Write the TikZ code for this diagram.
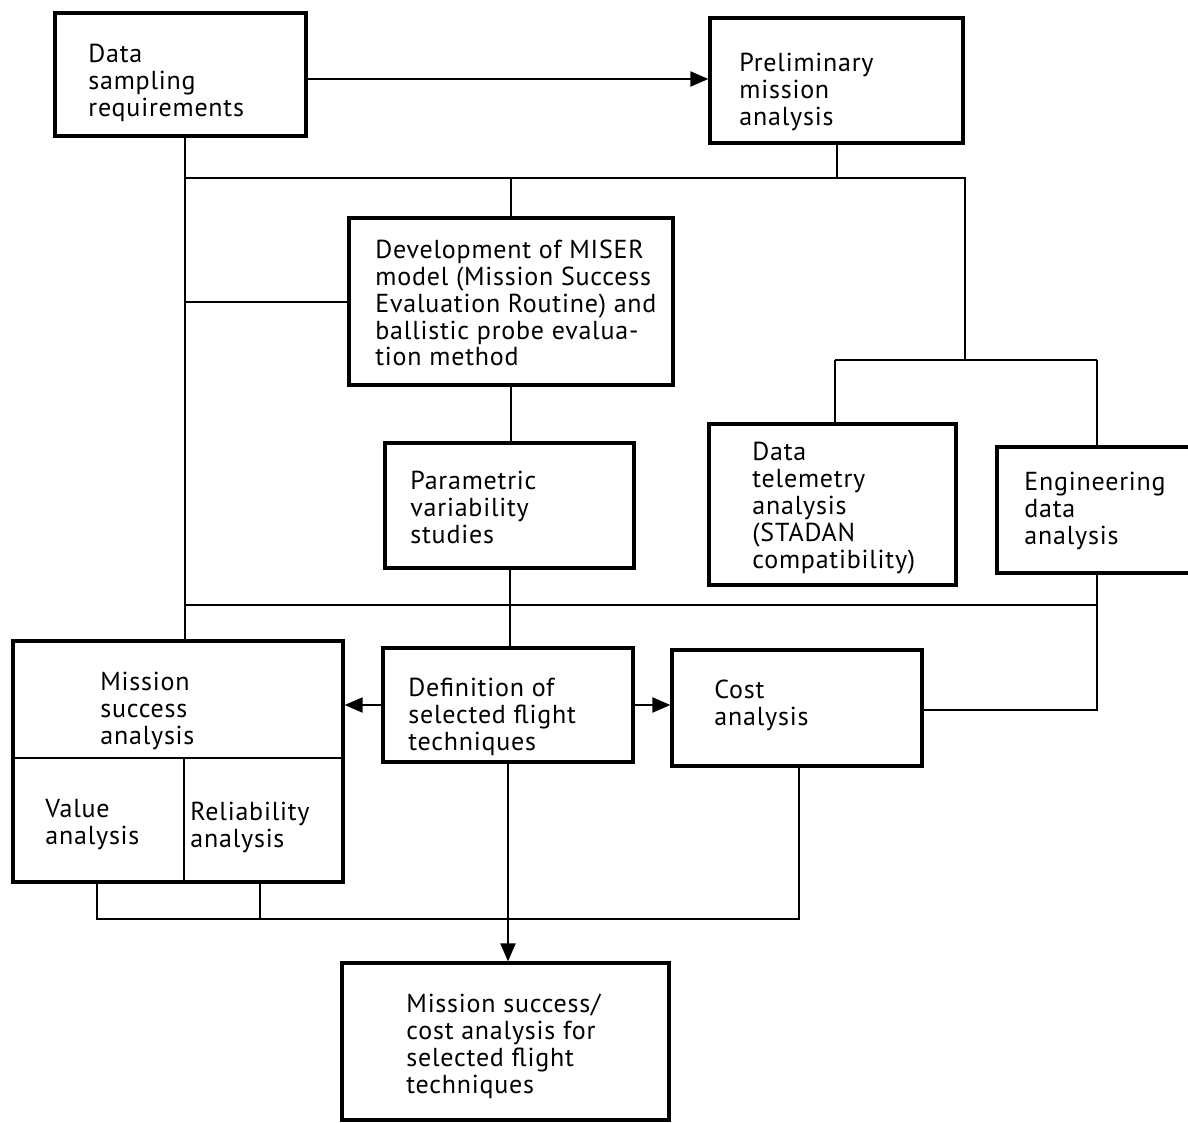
\documentclass[tikz,border=0pt]{standalone}
\usepackage{fontspec}
\setmainfont{PT Sans}[LetterSpace=3]
\usetikzlibrary{arrows.meta}

% left-aligned multi-line label whose baseline is that of its first line
\newcommand{\tlines}[1]{\begin{tabular}[t]{@{}l@{}}#1\end{tabular}}

\begin{document}
\begin{tikzpicture}[
  x=0.5pt, y=-0.5pt,
  box/.style={draw, line width=1.6pt, inner sep=0pt},
  conn/.style={line width=1pt},
  flow/.style={line width=1pt, -{Triangle[length=9pt,width=7.5pt]}},
  txt/.style={anchor=base west, inner sep=0pt,
              font=\fontsize{13}{13.5}\selectfont}
]
\useasboundingbox (0,0) rectangle (1188,1123);
\clip (0,0) rectangle (1188,1123);

% ---- boxes ----
\node[box, minimum width=125.5pt, minimum height=61.5pt] (dsr)   at (180.5,74.5) {};
\node[box, minimum width=126.5pt, minimum height=62.5pt] (pma)   at (836.5,80.5) {};
\node[box, minimum width=162pt,   minimum height=83.5pt] (miser) at (511,301.5) {};
\node[box, minimum width=124.5pt, minimum height=62.5pt] (param) at (509.5,505.5) {};
\node[box, minimum width=123.5pt, minimum height=80.5pt] (dt)    at (832.5,504.5) {};
\node[box, minimum width=101.5pt, minimum height=63pt]   (eng)   at (1098.5,510) {};
\node[box, minimum width=165pt,   minimum height=120.5pt] (ms)   at (178,761.5) {};
\node[box, minimum width=125pt,   minimum height=57pt]   (def)   at (508,705) {};
\node[box, minimum width=125pt,   minimum height=58pt]   (cost)  at (797,708) {};
\node[box, minimum width=163.5pt, minimum height=78.5pt] (fin)   at (505.5,1041.5) {};

% ---- texts ----
\node[txt] (dsr-t)   at (88,63)   {\tlines{Data\\ sampling\\ requirements}};
\node[txt] (pma-t)   at (739,72)  {\tlines{Preliminary\\ mission\\ analysis}};
\node[txt] (miser-t) at (375,258) {\tlines{Development of MISER\\ model (Mission Success\\ Evaluation Routine) and\\ ballistic probe evalua-\\ tion method}};
\node[txt] (param-t) at (410,489) {\tlines{Parametric\\ variability\\ studies}};
\node[txt] (dt-t)    at (752,460) {\tlines{Data\\ telemetry\\ analysis\\ (STADAN\\ compatibility)}};
\node[txt] (eng-t)   at (1024,490) {\tlines{Engineering\\ data\\ analysis}};
\node[txt] (ms-t)    at (100,690) {\tlines{Mission\\ success\\ analysis}};
\node[txt] (val-t)   at (45,817)  {\tlines{Value\\ analysis}};
\node[txt] (rel-t)   at (190,820) {\tlines{Reliability\\ analysis}};
\node[txt] (def-t)   at (408,696) {\tlines{Definition of\\ selected flight\\ techniques}};
\node[txt] (cost-t)  at (714,698) {\tlines{Cost\\ analysis}};
\node[txt] (fin-t)   at (406,1012) {\tlines{Mission success/\\ cost analysis for\\ selected flight\\ techniques}};

% ---- inner divisions of the mission success box ----
\coordinate (msdiv) at (0,758);
\coordinate (mscol) at (184,0);
\draw[conn] (ms.west |- msdiv) -- (ms.east |- msdiv);
\draw[conn] (mscol |- msdiv) -- (ms.south -| mscol);

% ---- trunk and bus positions ----
\coordinate (L)  at (185,0);
\coordinate (R)  at (965,0);
\coordinate (E)  at (1097,0);
\coordinate (T)  at (835,0);
\coordinate (V)  at (97,0);
\coordinate (W)  at (260,0);
\coordinate (C)  at (799,0);
\coordinate (y0) at (0,79);
\coordinate (y1) at (0,178);
\coordinate (y2) at (0,360);
\coordinate (y3) at (0,605);
\coordinate (y4) at (0,710);
\coordinate (y5) at (0,919);

% ---- connectors ----
\draw[flow] (dsr.east |- y0) -- (pma.west |- y0);
\draw[conn] (dsr.south -| L) -- (ms.north -| L);
\draw[conn] (pma.south) -- (pma.south |- y1);
\draw[conn] (L |- y1) -- (R |- y1) -- (R |- y2);
\draw[conn] (T |- y2) -- (E |- y2);
\draw[conn] (T |- y2) -- (dt.north -| T);
\draw[conn] (E |- y2) -- (eng.north -| E);
\draw[conn] (miser.north) -- (miser.north |- y1);
\draw[conn] (L |- miser.west) -- (miser.west);
\draw[conn] (miser.south) -- (miser.south |- param.north);
\draw[conn] (param.south) -- (param.south |- def.north);
\draw[conn] (L |- y3) -- (E |- y3);
\draw[conn] (eng.south -| E) -- (E |- y4) -- (cost.east |- y4);
\draw[flow] (def.west) -- (def.west -| ms.east);
\draw[flow] (def.east) -- (def.east -| cost.west);
\draw[flow] (def.south) -- (def.south |- fin.north);
\draw[conn] (ms.south -| V) -- (V |- y5) -- (C |- y5) -- (cost.south -| C);
\draw[conn] (ms.south -| W) -- (W |- y5);
\end{tikzpicture}
\end{document}
